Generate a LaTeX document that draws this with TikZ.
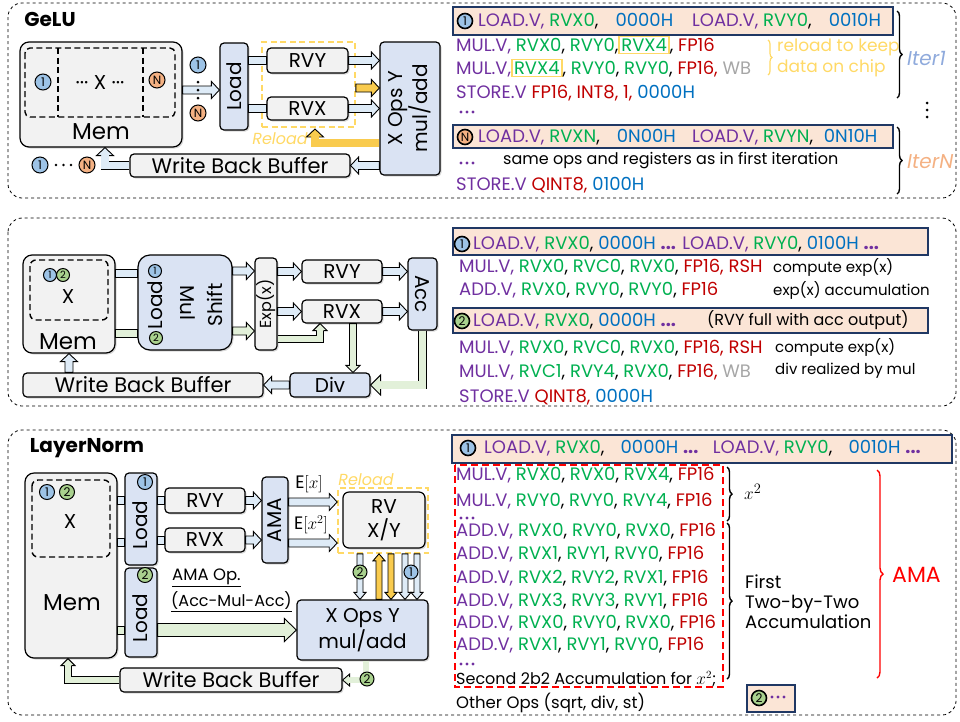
\documentclass[tikz,border=0pt]{standalone}
\usepackage{fontspec}
\setmainfont{Poppins}
\usetikzlibrary{calc,shadows,decorations.pathreplacing}
\definecolor{cpur}{HTML}{7030A0}
\definecolor{cgrn}{HTML}{00B050}
\definecolor{cblu}{HTML}{0070C0}
\definecolor{cred}{HTML}{C00000}
\definecolor{cbrd}{HTML}{FF0000}
\definecolor{cgry}{HTML}{A6A6A6}
\definecolor{cyel}{HTML}{FFD966}
\definecolor{yarr}{HTML}{F9CB4E}
\definecolor{lblu}{HTML}{DAE3F3}
\definecolor{lgry}{HTML}{F2F2F2}
\definecolor{peach}{HTML}{FBE5D6}
\definecolor{navy}{HTML}{203864}
\definecolor{cone}{HTML}{9DC3E6}
\definecolor{cenn}{HTML}{F4B183}
\definecolor{ctwo}{HTML}{A9D18E}
\definecolor{arrb}{HTML}{DEEBF7}
\definecolor{arrg}{HTML}{E2F0D9}
\definecolor{itone}{HTML}{8FAADC}
\definecolor{itenn}{HTML}{F4B183}
\newcommand\txP[1]{\textcolor{cpur}{#1}}
\newcommand\txG[1]{\textcolor{cgrn}{#1}}
\newcommand\txB[1]{\textcolor{cblu}{#1}}
\newcommand\txR[1]{\textcolor{cred}{#1}}
\newcommand\txW[1]{\textcolor{cgry}{#1}}
\newcommand\ybx[1]{{\setlength\fboxsep{1.5pt}\setlength\fboxrule{1.4pt}\fcolorbox{cyel}{white}{#1}}}
\def\asw{4pt}\def\ahw{8.5pt}\def\ahl{8pt}
% straight block arrow
\newcommand\blk[3][arrb]{%
  \coordinate (bkA) at #2; \coordinate (bkB) at #3;
  \coordinate (bkC) at ($(bkB)!\ahl!(bkA)$);
  \draw[arrline, fill=#1] ($(bkA)!\asw!90:(bkB)$) -- ($(bkC)!\asw!90:(bkB)$) -- ($(bkC)!\ahw!90:(bkB)$) -- (bkB) -- ($(bkC)!\ahw!-90:(bkB)$) -- ($(bkC)!\asw!-90:(bkB)$) -- ($(bkA)!\asw!-90:(bkB)$) -- cycle;}
% bar without head
\newcommand\shaft[3][arrb]{%
  \coordinate (bkA) at #2; \coordinate (bkB) at #3;
  \draw[arrline, fill=#1] ($(bkA)!\asw!90:(bkB)$) -- ($(bkB)!\asw!-90:(bkA)$) -- ($(bkB)!\asw!90:(bkA)$) -- ($(bkA)!\asw!-90:(bkB)$) -- cycle;}
% elbow block arrow
\newcommand\elb[4][arrb]{%
  \coordinate (bkA) at #2; \coordinate (bkM) at #3; \coordinate (bkB) at #4;
  \coordinate (bkC) at ($(bkB)!\ahl!(bkM)$);
  \pgfmathsetmacro\adw{2*\asw-0.9}%
  \draw[line width=0.9pt, double=#1, double distance=\adw pt, line join=miter] (bkA) -- (bkM) -- ($(bkC)!0.6pt!(bkB)$);
  \filldraw[arrline, fill=#1] ($(bkC)!\asw!90:(bkB)$) -- ($(bkC)!\ahw!90:(bkB)$) -- (bkB) -- ($(bkC)!\ahw!-90:(bkB)$) -- ($(bkC)!\asw!-90:(bkB)$);}
% row of three purple dots
\newcommand\pdots[1]{\fill[cpur] #1 circle (1.6) ++(6,0) circle (1.6) ++(6,0) circle (1.6);}
\begin{document}
\begin{tikzpicture}[x=1pt,y=-1pt,
  arrline/.style={line width=0.9pt, draw=black, line join=miter},
  box/.style={draw, line width=1.2pt, rounded corners=4pt, inner sep=0pt,
    drop shadow={shadow xshift=1.5pt, shadow yshift=-1.5pt, opacity=0.3}},
  bluebox/.style={box, fill=lblu},
  graybox/.style={box, fill=lgry},
  lbl/.style={font=\fontsize{20}{23}\selectfont, inner sep=0pt},
  wlbl/.style={font=\fontsize{21}{21}\selectfont, inner sep=0pt},
  biglbl/.style={font=\fontsize{23}{23}\selectfont, inner sep=0pt},
  ttl/.style={font=\bfseries\fontsize{20}{20}\selectfont, inner sep=0pt},
  panel/.style={draw, dashed, line width=0.8pt, rounded corners=14pt},
  mdash/.style={draw, line width=1.4pt, dash pattern=on 6pt off 3.5pt},
  ydash/.style={draw=cyel, line width=1.6pt, dash pattern=on 6pt off 3.5pt, inner sep=0pt},
  numc/.style={circle, draw, line width=1pt, inner sep=0pt, minimum size=16pt, font=\fontsize{12}{12}\selectfont},
  smc/.style={numc, minimum size=13pt, font=\fontsize{10}{10}\selectfont},
  hnum/.style={numc, line width=1.6pt, minimum size=15pt},
  hdr/.style={draw=navy, fill=peach, line width=2pt, inner sep=0pt},
  ins/.style={anchor=west, inner sep=0pt, font=\fontsize{18}{18}\selectfont},
  note/.style={anchor=west, inner sep=0pt, font=\fontsize{15}{16}\selectfont},
  brc/.style={decorate, decoration={brace, amplitude=5pt}, line width=1.4pt},
  dotc/.style={circle, fill, inner sep=0pt, minimum size=3pt}]
\useasboundingbox (0,0) rectangle (960,721);
% ================= panels
\draw[panel] (8,3) rectangle (956,198);
\draw[panel] (8,218) rectangle (956,406);
\draw[panel] (8,430) rectangle (956,715);
% ================= GeLU
\node[ttl] (t1) at (50,19) {GeLU};
\node[graybox, rounded corners=9pt, minimum width=162, minimum height=105] (mem1) at (101,94.5) {};
\draw[mdash, rounded corners=5pt] (25,48) rectangle (175,117);
\draw[mdash] (58,48) -- (58,117) (143,48) -- (143,117);
\node[numc, fill=cone] (g1a) at (43,82) {1};
\node[numc, fill=cenn] (gNa) at (157,80) {N};
\node[lbl] (gx) at (100,83) {··· X ···};
\node[biglbl] (gmem) at (101,132) {Mem};
\node[bluebox, minimum width=28, minimum height=87] (load1) at (234,86.5) {};
\node[lbl, rotate=90] (load1t) at (load1) {Load};
\node[ydash, minimum width=93, minimum height=85] (rl1) at (308.5,84.5) {};
\node[graybox, minimum width=81, minimum height=25, lbl] (rvy1) at (307.5,60.5) {RVY};
\node[graybox, minimum width=81, minimum height=23, lbl] (rvx1) at (307.5,108.5) {RVX};
\node[bluebox, minimum width=60, minimum height=133] (xops1) at (410,108.5) {};
\node[lbl, rotate=90, align=center] (xops1t) at (xops1) {X Ops Y\\mul/add};
\node[graybox, minimum width=220, minimum height=23, wlbl] (wbb1) at (240,165.5) {Write Back Buffer};
\node[font=\itshape\fontsize{16}{16}\selectfont, text=cyel, inner sep=0pt] (rld1) at (280,139) {Reload};
% arrows
\blk{(mem1.east |- 0,90)}{(load1.west |- 0,90)}
\node[numc, fill=cone] (g1b) at (198,65) {1};
\node[numc, fill=cenn] (gNb) at (198,113) {N};
\node[dotc] (gv1) at (198,82) {}; \node[dotc] (gv2) at (198,90) {}; \node[dotc] (gv3) at (198,98) {};
\shaft{(load1.east |- rvy1)}{(rvy1.west)}
\shaft{(load1.east |- rvx1)}{(rvx1.west)}
\blk{(rvy1.east)}{(rvy1 -| xops1.west)}
\blk{(rvx1.east)}{(rvx1 -| xops1.west)}
\blk[yarr]{(rl1.east |- 0,88)}{(xops1.west |- 0,88)}
\elb[yarr]{(xops1.west |- 0,143)}{(315,143)}{(315,129)}
\blk{(xops1.west |- wbb1)}{(wbb1.east)}
\elb{(wbb1.west)}{(105,165.5)}{(mem1.south -| 105,0)}
\node[numc, fill=cone] (g1c) at (40,165) {1};
\node[numc, fill=cenn] (gNc) at (87,165) {N};
\node[dotc, minimum size=2.6pt] (gh1) at (56,165) {}; \node[dotc, minimum size=2.6pt] (gh2) at (63.5,165) {}; \node[dotc, minimum size=2.6pt] (gh3) at (71,165) {};
% GeLU code
\node[hdr, minimum width=440, minimum height=28] (h1) at (673,21) {};
\node[hnum, fill=cone] (h1c) at (465,21) {1};
\node[ins] (h1t) at (478,21) {\txP{LOAD.V,} \txG{RVX0},\hspace{0.95em}\txB{0000H}\hspace{1.05em}\txP{LOAD.V,} \txG{RVY0},\hspace{0.95em}\txB{0010H}};
\node[ins] (g2) at (456,45) {\txP{MUL.V,} \txG{RVX0}, \txG{RVY0},\ybx{\txG{RVX4}}, \txR{FP16}};
\node[ins] (g3) at (456,68) {\txP{MUL.V,}\ybx{\txG{RVX4}}, \txG{RVY0}, \txG{RVY0}, \txR{FP16,} \txW{WB}};
\node[ins] (g4) at (456,93) {\txP{STORE.V} \txR{FP16, INT8, 1,} \txB{0000H}};
\pdots{(461,112)}
\draw[brc, draw=cyel, decoration={brace, amplitude=4pt}, line width=1.2pt] (768,40) -- (768,75);
\node[note, text=cyel, font=\fontsize{17}{17}\selectfont] (rk1) at (777,47) {reload to keep};
\node[note, text=cyel, font=\fontsize{17}{17}\selectfont] (rk2) at (777,68) {data on chip};
\draw[brc] (897,11) -- (897,98);
\node[anchor=west, inner sep=0pt, font=\itshape\fontsize{20}{20}\selectfont, text=itone] (it1) at (907,58) {Iter1};
\node[dotc] (vd1) at (927,103) {}; \node[dotc] (vd2) at (927,110) {}; \node[dotc] (vd3) at (927,117) {};
\node[hdr, minimum width=440, minimum height=23] (h2) at (673,136.5) {};
\node[hnum, fill=cenn] (h2c) at (465,137) {N};
\node[ins] (h2t) at (478,137) {\txP{LOAD.V,} \txG{RVXN},\hspace{0.95em}\txB{0N00H}\hspace{0.9em}\txP{LOAD.V,} \txG{RVYN},\hspace{0.6em}\txB{0N10H}};
\pdots{(461,163)}
\node[note, font=\fontsize{16}{16}\selectfont] (g6t) at (503,161) {same ops and registers as in first iteration};
\node[ins] (g7) at (456,185) {\txP{STORE.V} \txR{QINT8,} \txB{0100H}};
\draw[brc] (897,127) -- (897,194);
\node[anchor=west, inner sep=0pt, font=\itshape\fontsize{20}{20}\selectfont, text=itenn] (itn) at (907,162) {IterN};
% ================= Softmax panel
\node[graybox, rounded corners=9pt, minimum width=92, minimum height=98] (mem2) at (69,304) {};
\draw[mdash, rounded corners=6pt] (30,260) rectangle (108,320);
\node[smc, fill=cone] (s1a) at (50,275) {1};
\node[smc, fill=ctwo] (s2a) at (63,275) {2};
\node[lbl] (sx) at (68,297) {X};
\node[biglbl] (smem) at (68,342) {Mem};
\node[bluebox, rounded corners=12pt, minimum width=94, minimum height=95] (lms) at (185,302.5) {};
\node[lbl, rotate=90] (lmsl) at (155,305) {Load};
\node[lbl, rotate=-90] (lmsm) at (188,303) {Mul};
\node[lbl, rotate=90] (lmss) at (215,305) {Shift};
\node[smc, fill=cone] (s1b) at (155,271) {1};
\node[smc, fill=ctwo] (s2b) at (156,338) {2};
\node[graybox, minimum width=22, minimum height=92] (exp2) at (266,304) {};
\node[font=\fontsize{16}{16}\selectfont, inner sep=0pt, rotate=90] (exp2t) at (exp2) {Exp(x)};
\node[graybox, minimum width=80, minimum height=23, lbl] (rvy2) at (342,271.5) {RVY};
\node[graybox, minimum width=80, minimum height=23, lbl] (rvx2) at (342,311.5) {RVX};
\node[bluebox, minimum width=29, minimum height=72] (acc2) at (422.5,294) {};
\node[lbl, rotate=-90] (acc2t) at (acc2) {Acc};
\node[bluebox, minimum width=80, minimum height=24, lbl] (div2) at (330,385) {Div};
\node[graybox, minimum width=240, minimum height=24, wlbl] (wbb2) at (143,385) {Write Back Buffer};
\shaft{(mem2.east |- 0,273)}{(lms.west |- 0,273)}
\shaft[arrg]{(mem2.east |- 0,333)}{(lms.west |- 0,333)}
\blk{(lms.east |- 0,271)}{(exp2.west |- 0,271)}
\blk[arrg]{(lms.east |- 0,331)}{(exp2.west |- 0,331)}
\blk{(exp2.east |- rvy2)}{(rvy2.west)}
\blk{(exp2.east |- rvx2)}{(rvx2.west)}
\begin{scope}
\def\asw{3.5pt}\def\ahw{7pt}\def\ahl{7pt}
\elb[arrg]{(exp2.east |- 0,339)}{(320,339)}{(rvx2.south -| 320,0)}
\blk[arrg]{(rvx2.south -| 353,0)}{(div2.north -| 353,0)}
\end{scope}
\blk{(rvy2.east)}{(rvy2 -| acc2.west)}
\blk{(rvx2.east)}{(rvx2 -| acc2.west)}
\begin{scope}
\def\ahw{10pt}\def\ahl{10pt}
\elb[arrg]{(acc2.south)}{(acc2.south |- div2)}{(div2.east)}
\end{scope}
\blk{(div2.west)}{(wbb2.east)}
\blk{(wbb2.north -| mem2)}{(mem2.south)}
% softmax code
\node[hdr, minimum width=475, minimum height=27] (h3) at (690.5,241.5) {};
\node[hnum, fill=cone] (h3c) at (462,244) {1};
\node[ins] (h3t) at (473,244) {\txP{LOAD.V,} \txG{RVX0}, \txB{0000H} \txP{\textbf{...}} \txP{LOAD.V,} \txG{RVY0}, \txB{0100H} \txP{\textbf{...}}};
\node[ins] (s4) at (459,267) {\txP{MUL.V,} \txG{RVX0}, \txG{RVC0}, \txG{RVX0}, \txR{FP16, RSH}};
\node[note] (s4n) at (773,267) {compute exp(x)};
\node[ins] (s5) at (459,290) {\txP{ADD.V,} \txG{RVX0}, \txG{RVY0}, \txG{RVY0}, \txR{FP16}};
\node[note] (s5n) at (773,290) {exp(x) accumulation};
\node[hdr, minimum width=475, minimum height=25] (h4) at (690.5,320.5) {};
\node[hnum, fill=ctwo] (h4c) at (462,321) {2};
\node[ins] (h4t) at (473,321) {\txP{LOAD.V,} \txG{RVX0}, \txB{0000H} \txP{\textbf{...}}};
\node[note, font=\fontsize{16}{16}\selectfont] (h4n) at (707,320) {(RVY full with acc output)};
\node[ins] (s6) at (459,348) {\txP{MUL.V,} \txG{RVX0}, \txG{RVC0}, \txG{RVX0}, \txR{FP16, RSH}};
\node[note] (s6n) at (775,347) {compute exp(x)};
\node[ins] (s7) at (459,372) {\txP{MUL.V,} \txG{RVC1}, \txG{RVY4}, \txG{RVX0}, \txR{FP16,} \txW{WB}};
\node[note] (s7n) at (775,371) {div realized by mul};
\node[ins] (s8) at (459,397) {\txP{STORE.V} \txR{QINT8,} \txB{0000H}};
% ================= LayerNorm
\node[ttl] (t3) at (87,448) {LayerNorm};
\node[graybox, rounded corners=9pt, minimum width=92, minimum height=185] (mem3) at (71,565.5) {};
\draw[mdash, rounded corners=6pt] (32,480) rectangle (110,557);
\node[numc, fill=cone, minimum size=15pt] (l1a) at (47,492) {1};
\node[numc, fill=ctwo, minimum size=15pt] (l2a) at (67,492) {2};
\node[lbl] (lx) at (70,522) {X};
\node[biglbl] (lmem) at (72,603) {Mem};
\node[bluebox, minimum width=32, minimum height=92] (ld31) at (141,519) {};
\node[lbl, rotate=90] (ld31t) at (140,525) {Load};
\node[numc, fill=cone, minimum size=15pt] (l1b) at (145,482) {1};
\node[bluebox, minimum width=32, minimum height=89] (ld32) at (141,612.5) {};
\node[lbl, rotate=90] (ld32t) at (140,618) {Load};
\node[numc, fill=ctwo, minimum size=15pt] (l2b) at (145,575) {2};
\node[graybox, minimum width=80, minimum height=25, lbl] (rvy3) at (205,500.5) {RVY};
\node[graybox, minimum width=80, minimum height=24, lbl] (rvx3) at (205,540) {RVX};
\node[bluebox, minimum width=26, minimum height=86] (ama3) at (275,520) {};
\node[lbl, rotate=90] (ama3t) at (ama3) {AMA};
\node[ydash, minimum width=90, minimum height=65] (rl3) at (383,520.5) {};
\node[graybox, rounded corners=6pt, minimum width=82, minimum height=56, lbl, align=center] (rv3) at (384,520) {RV\\[1pt]X/Y};
\node[font=\itshape\fontsize{16}{16}\selectfont, text=cyel, inner sep=0pt] (rld3) at (366,480) {Reload};
\node[bluebox, minimum width=131, minimum height=60, lbl, align=center] (xops3) at (362.5,630) {X Ops Y\\[1pt]mul/add};
\node[graybox, minimum width=222, minimum height=24, wlbl] (wbb3) at (231,680) {Write Back Buffer};
\node[font=\fontsize{18}{18}\selectfont, inner sep=0pt] (e1) at (309,484) {$\mathrm{E}[x]$};
\node[font=\fontsize{18}{18}\selectfont, inner sep=0pt] (e2) at (311,525) {$\mathrm{E}[x^2]$};
\node[font=\fontsize{16.5}{16.5}\selectfont, inner sep=0pt, anchor=west] (amaop) at (172,578) {\underline{AMA Op.}};
\node[font=\fontsize{16}{16}\selectfont, inner sep=0pt, anchor=west] (amaop2) at (171,602) {\underline{(Acc-Mul-Acc)}};
\shaft{(mem3.east |- 0,500)}{(ld31.west |- 0,500)}
\shaft{(mem3.east |- 0,542)}{(ld31.west |- 0,542)}
\shaft[arrg]{(mem3.east |- 0,630)}{(ld32.west |- 0,630)}
\shaft{(ld31.east |- rvy3)}{(rvy3.west)}
\shaft{(ld31.east |- rvx3)}{(rvx3.west)}
\blk{(rvy3.east)}{(rvy3 -| ama3.west)}
\blk{(rvx3.east)}{(rvx3 -| ama3.west)}
\blk{(ama3.east |- 0,502)}{(rl3.west |- 0,502)}
\blk{(ama3.east |- 0,543)}{(rl3.west |- 0,543)}
\begin{scope}
\def\asw{6.5pt}\def\ahw{11.5pt}\def\ahl{12pt}
\blk[arrg]{(ld32.east |- 0,630)}{(xops3.west |- 0,630)}
\end{scope}
\begin{scope}
\def\asw{3pt}\def\ahw{6pt}\def\ahl{7pt}
\blk{(rl3.south -| 360,0)}{(xops3.north -| 360,0)}
\blk[yarr]{(xops3.north -| 379,0)}{(rl3.south -| 379,0)}
\blk[yarr]{(rl3.south -| 391,0)}{(xops3.north -| 391,0)}
\blk{(rl3.south -| 405,0)}{(xops3.north -| 405,0)}
\blk{(rl3.south -| 417,0)}{(xops3.north -| 417,0)}
\node[numc, fill=ctwo, minimum size=14pt] (l2c) at (360,572) {2};
\node[numc, fill=cone, minimum size=14pt] (l1c) at (411,572) {1};
\elb[arrg]{(xops3.south -| 366,0)}{(366,680)}{(wbb3.east)}
\node[numc, fill=ctwo, minimum size=14pt] (l2d) at (367,679) {2};
\def\asw{3.5pt}\def\ahw{7pt}
\elb[arrg]{(wbb3.west)}{(68,680)}{(mem3.south -| 68,0)}
\end{scope}
% LayerNorm code
\node[hdr, minimum width=500, minimum height=28] (h5) at (702,449) {};
\node[hnum, fill=cone] (h5c) at (468,448) {1};
\node[ins] (h5t) at (484,448) {\txP{LOAD.V,} \txG{RVX0},\hspace{0.9em}\txB{0000H} \txP{\textbf{...}}\hspace{0.8em}\txP{LOAD.V,} \txG{RVY0},\hspace{0.9em}\txB{0010H} \txP{\textbf{...}}};
\draw[draw=cbrd, line width=1.8pt, dash pattern=on 7pt off 4pt] (455,465) rectangle (723,687);
\node[ins] (r1) at (456,475) {\txP{MUL.V,} \txG{RVX0}, \txG{RVX0}, \txG{RVX4}, \txR{FP16}};
\node[ins] (r2) at (456,501) {\txP{MUL.V,} \txG{RVY0}, \txG{RVY0}, \txG{RVY4}, \txR{FP16}};
\pdots{(461,518)}
\node[ins] (r3) at (456,531) {\txP{ADD.V,} \txG{RVX0}, \txG{RVY0}, \txG{RVX0}, \txR{FP16}};
\node[ins] (r4) at (456,554) {\txP{ADD.V,} \txG{RVX1}, \txG{RVY1}, \txG{RVY0}, \txR{FP16}};
\node[ins] (r5) at (456,578) {\txP{ADD.V,} \txG{RVX2}, \txG{RVY2}, \txG{RVX1}, \txR{FP16}};
\node[ins] (r6) at (456,601) {\txP{ADD.V,} \txG{RVX3}, \txG{RVY3}, \txG{RVY1}, \txR{FP16}};
\node[ins] (r7) at (456,623) {\txP{ADD.V,} \txG{RVX0}, \txG{RVY0}, \txG{RVX0}, \txR{FP16}};
\node[ins] (r8) at (456,645) {\txP{ADD.V,} \txG{RVX1}, \txG{RVY1}, \txG{RVY0}, \txR{FP16}};
\pdots{(461,664)}
\node[note, font=\fontsize{16}{16}\selectfont] (r9) at (456,679) {Second 2b2 Accumulation for $x^2$;};
\node[note, font=\fontsize{16.5}{16.5}\selectfont] (r10) at (456,703) {Other Ops (sqrt, div, st)};
\draw[brc] (727,467) -- (727,521);
\node[font=\fontsize{19}{19}\selectfont, inner sep=0pt, anchor=west] (xsq) at (744,492) {$x^2$};
\draw[brc] (727,523) -- (727,679);
\node[font=\fontsize{18}{20}\selectfont, inner sep=0pt, anchor=west, align=left] (fttt) at (745,602) {First\\Two-by-Two\\Accumulation};
\draw[brc, draw=cbrd, decoration={brace, amplitude=6pt}] (877,470) -- (877,678);
\node[font=\fontsize{22}{22}\selectfont, inner sep=0pt, anchor=west, text=cbrd] (amal) at (892,575) {AMA};
\node[hdr, minimum width=48, minimum height=27] (h6) at (771,698.5) {};
\node[hnum, fill=ctwo] (h6c) at (759,698) {2};
\pdots{(772,697)}
\end{tikzpicture}
\end{document}
